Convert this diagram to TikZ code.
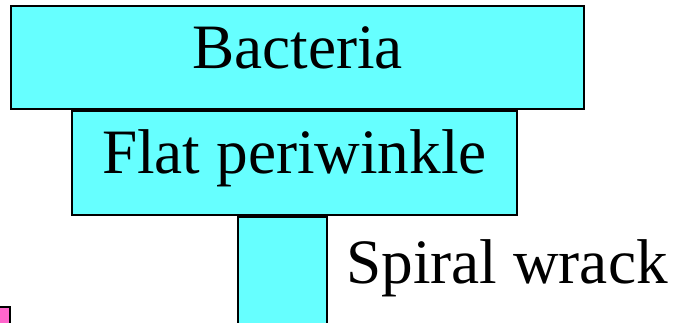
\documentclass[tikz,border=0pt]{standalone}
\usepackage{fontspec}
\setmainfont{Liberation Serif}
\usetikzlibrary{positioning}
\definecolor{levelcyan}{RGB}{102,255,255}
\definecolor{levelpink}{RGB}{255,102,204}

\begin{document}
\begin{tikzpicture}[x=0.02cm,y=-0.02cm,font=\fontsize{36}{40}\selectfont,
  levelbox/.style={draw=black,fill=levelcyan,line width=1.2pt,inner sep=0pt,
    text height=1.0cm,text depth=0.58cm}]

%% ── page frame ──────────────────────────────────────────────────────────
\useasboundingbox (0,0) rectangle (684,322);
\clip (0,0) rectangle (684,322);

%% pyramid levels
\node[levelbox,minimum width=573*0.02cm,minimum height=103*0.02cm]
  (bacteria) at (297.5,57.5) {Bacteria};
\node[levelbox,minimum width=445*0.02cm,minimum height=104*0.02cm]
  (periwinkle) at (294.5,163) {Flat periwinkle};
\node[levelbox,minimum width=89*0.02cm,minimum height=110*0.02cm]
  (wrack) at (282.5,272) {};

%% label beside the narrow level
\node[inner sep=0pt,anchor=base west] (wracklabel) at (346,283) {Spiral wrack};

%% corner of the next panel
\node[draw=black,fill=levelpink,line width=1.2pt,minimum width=20*0.02cm,
  minimum height=24*0.02cm] (corner) at (0,319) {};

\end{tikzpicture}
\end{document}
